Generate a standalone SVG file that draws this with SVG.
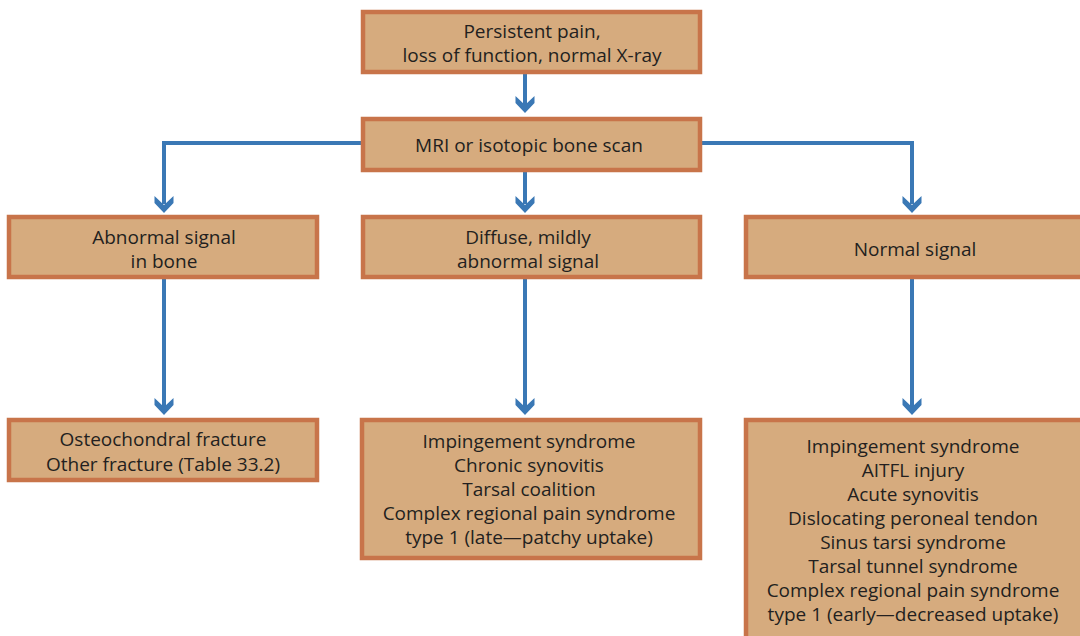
<svg xmlns="http://www.w3.org/2000/svg" xmlns:xlink="http://www.w3.org/1999/xlink" width="1080" height="636" viewBox="0 0 1080 636">
<style>
.box{fill:#d6ab7e;stroke:#c8744a;stroke-width:4.5}
.t{font-family:"Open Sans","Noto Sans",sans-serif;font-size:19px;fill:#231f20;text-anchor:middle}
.c{fill:none;stroke:#3a78b5;stroke-width:4}
.ah{fill:#3a78b5}
</style>
<defs>
<path id="ah" d="M0,0 L-9.5,-10 L-9.5,-17 L0,-8 L9.5,-17 L9.5,-10 Z"/>
</defs>
<rect width="1080" height="636" fill="#ffffff"/>
<g id="connectors">
<path class="c" d="M525,74 V105"/>
<use href="#ah" x="525" y="113" class="ah"/>
<path class="c" d="M361,143 H164 V204"/>
<use href="#ah" x="164" y="213" class="ah"/>
<path class="c" d="M525,172 V204"/>
<use href="#ah" x="525" y="213" class="ah"/>
<path class="c" d="M702,143 H912 V204"/>
<use href="#ah" x="912" y="213" class="ah"/>
<path class="c" d="M164,279 V407"/>
<use href="#ah" x="164" y="415" class="ah"/>
<path class="c" d="M525,279 V407"/>
<use href="#ah" x="525" y="415" class="ah"/>
<path class="c" d="M912,279 V407"/>
<use href="#ah" x="912" y="415" class="ah"/>
</g>
<g id="n1">
<rect class="box" x="363" y="12" width="337" height="60"/>
<text class="t" x="532" y="38">Persistent pain,</text>
<text class="t" x="532" y="62">loss of function, normal X-ray</text>
</g>
<g id="n2">
<rect class="box" x="363" y="119" width="337" height="51"/>
<text class="t" x="529" y="152">MRI or isotopic bone scan</text>
</g>
<g id="n3">
<rect class="box" x="9" y="217" width="308" height="60"/>
<text class="t" x="164" y="244">Abnormal signal</text>
<text class="t" x="164" y="268">in bone</text>
</g>
<g id="n4">
<rect class="box" x="363" y="217" width="337" height="60"/>
<text class="t" x="528" y="244">Diffuse, mildly</text>
<text class="t" x="528" y="268">abnormal signal</text>
</g>
<g id="n5">
<rect class="box" x="746" y="217" width="340" height="60"/>
<text class="t" x="915" y="256">Normal signal</text>
</g>
<g id="n6">
<rect class="box" x="9" y="420" width="308" height="60"/>
<text class="t" x="163" y="446">Osteochondral fracture</text>
<text class="t" x="163" y="471">Other fracture (Table 33.2)</text>
</g>
<g id="n7">
<rect class="box" x="362" y="420" width="338" height="138"/>
<text class="t" x="529" y="448">Impingement syndrome</text>
<text class="t" x="529" y="472">Chronic synovitis</text>
<text class="t" x="529" y="496">Tarsal coalition</text>
<text class="t" x="529" y="520">Complex regional pain syndrome</text>
<text class="t" x="529" y="544">type 1 (late—patchy uptake)</text>
</g>
<g id="n8">
<rect class="box" x="746" y="420" width="340" height="230"/>
<text class="t" x="913" y="453">Impingement syndrome</text>
<text class="t" x="913" y="477">AITFL injury</text>
<text class="t" x="913" y="501">Acute synovitis</text>
<text class="t" x="913" y="525">Dislocating peroneal tendon</text>
<text class="t" x="913" y="549">Sinus tarsi syndrome</text>
<text class="t" x="913" y="573">Tarsal tunnel syndrome</text>
<text class="t" x="913" y="597">Complex regional pain syndrome</text>
<text class="t" x="913" y="621">type 1 (early—decreased uptake)</text>
</g>
</svg>
